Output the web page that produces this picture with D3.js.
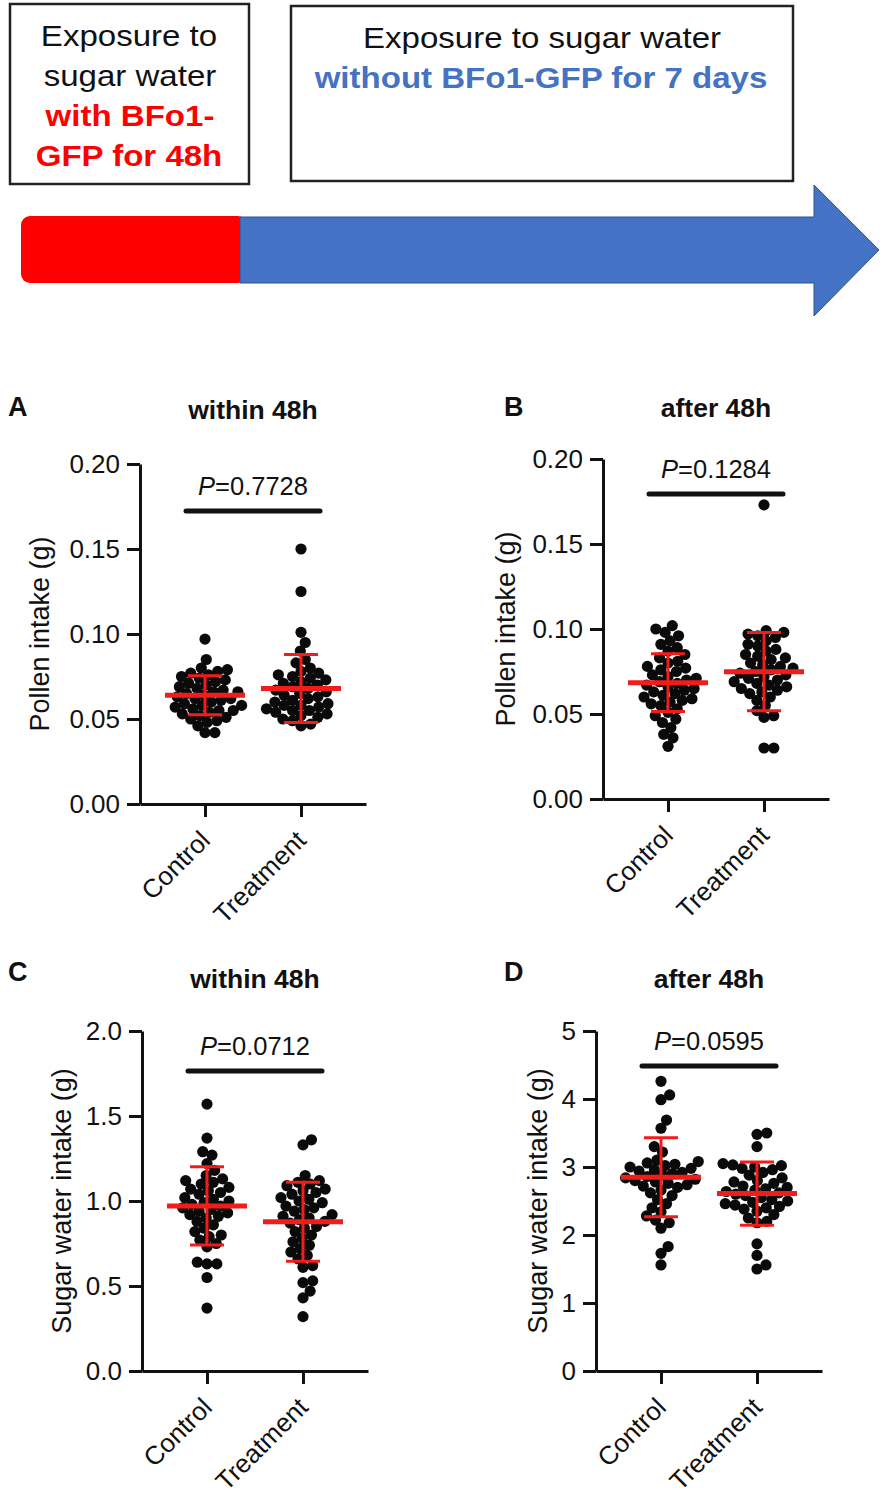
<!DOCTYPE html>
<html>
<head>
  <meta charset="utf-8">
  <script src="https://d3js.org/d3.v7.min.js"></script>
  <style>
    body { margin: 0; background: #fff; }
    text { font-family: "Liberation Sans", Arial, sans-serif; fill: #111; }
    .axis path, .axis line { stroke: #111; stroke-width: 3px; }
    .axis text { font-size: 26px; fill: #111; }
  </style>
</head>
<body>
<div id="fig"></div>
<script>
// ---- data ----
var groups = ["Control", "Treatment"];

var aControl = [0.097, 0.085, 0.080, 0.079, 0.078, 0.077, 0.076, 0.075, 0.074, 0.073, 0.072, 0.071, 0.070, 0.069,
  0.068, 0.067, 0.066, 0.066, 0.065, 0.064, 0.063, 0.062, 0.062, 0.061, 0.060, 0.059, 0.058, 0.058, 0.057, 0.056,
  0.055, 0.055, 0.054, 0.053, 0.052, 0.051, 0.050, 0.049, 0.048, 0.046, 0.042, 0.042];
var aTreatment = [0.150, 0.125, 0.101, 0.095, 0.090, 0.085, 0.083, 0.080, 0.078, 0.077, 0.076, 0.075, 0.074, 0.073,
  0.072, 0.071, 0.070, 0.069, 0.068, 0.067, 0.066, 0.065, 0.064, 0.063, 0.062, 0.061, 0.060, 0.059, 0.058, 0.058,
  0.057, 0.056, 0.055, 0.055, 0.054, 0.053, 0.052, 0.051, 0.050, 0.049, 0.047, 0.046];

var bControl = [0.102, 0.100, 0.098, 0.096, 0.093, 0.091, 0.089, 0.087, 0.085, 0.083, 0.081, 0.080, 0.078, 0.077,
  0.076, 0.075, 0.073, 0.072, 0.071, 0.070, 0.069, 0.068, 0.067, 0.066, 0.065, 0.064, 0.063, 0.062, 0.061, 0.060,
  0.059, 0.058, 0.057, 0.056, 0.055, 0.053, 0.051, 0.049, 0.047, 0.045, 0.042, 0.038, 0.036, 0.031];
var bTreatment = [0.173, 0.099, 0.098, 0.097, 0.096, 0.095, 0.093, 0.091, 0.090, 0.088, 0.087, 0.085, 0.084, 0.083,
  0.082, 0.080, 0.079, 0.078, 0.077, 0.076, 0.075, 0.074, 0.073, 0.072, 0.071, 0.070, 0.069, 0.068, 0.067, 0.066,
  0.065, 0.064, 0.063, 0.062, 0.060, 0.058, 0.055, 0.052, 0.049, 0.048, 0.030, 0.030];

var cControl = [1.57, 1.37, 1.29, 1.27, 1.22, 1.18, 1.15, 1.13, 1.12, 1.11, 1.10, 1.08, 1.07, 1.06, 1.05, 1.04,
  1.02, 1.01, 1.00, 0.99, 0.98, 0.97, 0.96, 0.95, 0.94, 0.93, 0.92, 0.91, 0.90, 0.88, 0.86, 0.84, 0.82, 0.80,
  0.79, 0.77, 0.75, 0.73, 0.64, 0.63, 0.63, 0.55, 0.37];
var cTreatment = [1.36, 1.33, 1.15, 1.12, 1.11, 1.10, 1.09, 1.07, 1.06, 1.05, 1.04, 1.02, 1.01, 1.00, 0.99, 0.97,
  0.96, 0.95, 0.94, 0.92, 0.91, 0.90, 0.89, 0.88, 0.87, 0.85, 0.84, 0.82, 0.80, 0.78, 0.76, 0.74, 0.72, 0.70,
  0.68, 0.66, 0.62, 0.61, 0.53, 0.52, 0.47, 0.43, 0.32];

var dControl = [4.26, 4.06, 3.99, 3.69, 3.57, 3.30, 3.22, 3.10, 3.08, 3.06, 3.04, 3.02, 3.00, 2.98, 2.96, 2.94,
  2.92, 2.90, 2.88, 2.86, 2.84, 2.82, 2.80, 2.78, 2.76, 2.74, 2.72, 2.70, 2.66, 2.62, 2.58, 2.52, 2.46, 2.40,
  2.34, 2.28, 2.22, 2.18, 2.10, 1.83, 1.73, 1.56];
var dTreatment = [3.50, 3.48, 3.30, 3.05, 3.03, 3.02, 3.00, 2.98, 2.96, 2.92, 2.88, 2.84, 2.80, 2.78, 2.76, 2.72,
  2.70, 2.68, 2.66, 2.64, 2.62, 2.60, 2.58, 2.55, 2.52, 2.50, 2.48, 2.46, 2.44, 2.42, 2.40, 2.38, 2.35, 2.30,
  2.25, 2.20, 2.18, 1.87, 1.70, 1.56, 1.50];

// mean and SD bars as drawn
var means = [[0.064, 0.068], [0.0684, 0.0749], [0.971, 0.878], [2.85, 2.61]];
var sds = [[0.0115, 0.020], [0.017, 0.023], [0.23, 0.233], [0.58, 0.465]];

var panelLetters = ["A", "B", "C", "D"];
var titles = ["within 48h", "after 48h", "within 48h", "after 48h"];
var yLabels = ["Pollen intake (g)", "Pollen intake (g)", "Sugar water intake (g)", "Sugar water intake (g)"];
var yMax = [0.20, 0.20, 2.0, 5];
var yTicks = [[0, 0.05, 0.10, 0.15, 0.20], [0, 0.05, 0.10, 0.15, 0.20], [0, 0.5, 1.0, 1.5, 2.0], [0, 1, 2, 3, 4, 5]];
var tickFormats = [".2f", ".2f", ".1f", "d"];
var pValues = ["0.7728", "0.1284", "0.0712", "0.0595"];
var pBarLevel = [0.1724, 0.1794, 1.765, 4.485];

var panelData = [[aControl, aTreatment], [bControl, bTreatment], [cControl, cTreatment], [dControl, dTreatment]];

// ---- layout ----
var width = 886, height = 1496;
var layout = [
  {x0: 140, yBase: 804, letterX: 8, letterY: 416, titleY: 419, labelX: 40},
  {x0: 603, yBase: 799, letterX: 504, letterY: 416, titleY: 417, labelX: 506},
  {x0: 142, yBase: 1371, letterX: 8, letterY: 981, titleY: 988, labelX: 62},
  {x0: 596, yBase: 1371, letterX: 504, letterY: 981, titleY: 988, labelX: 538}
];
var axisW = 226, axisH = 340, dotR = 5.6;

var svg = d3.select("#fig").append("svg")
  .attr("width", width)
  .attr("height", height);

svg.append("rect").attr("width", width).attr("height", height).attr("fill", "#fff");

// ---- timeline banner ----
var banner = svg.append("g");

banner.append("rect")
  .attr("x", 10).attr("y", 4).attr("width", 239).attr("height", 180)
  .attr("fill", "#fff").attr("stroke", "#222").attr("stroke-width", 2.5);
banner.append("rect")
  .attr("x", 291).attr("y", 6).attr("width", 502).attr("height", 175)
  .attr("fill", "#fff").attr("stroke", "#222").attr("stroke-width", 2.5);

banner.append("rect")
  .attr("x", 21).attr("y", 216).attr("width", 226).attr("height", 67).attr("rx", 9)
  .attr("fill", "#ff0000");
banner.append("path")
  .attr("d", "M240,217 L814,217 L814,185 L879,250 L814,316 L814,283 L240,283 Z")
  .attr("fill", "#4472c4").attr("stroke", "#2f528f").attr("stroke-width", 1);

// banner text is a bit wider than plain Arial
function bannerLine(x, y, str, color, bold) {
  banner.append("text")
    .attr("transform", "translate(" + x + "," + y + ") scale(1.12,1)")
    .attr("text-anchor", "middle")
    .style("font-size", "29.5px")
    .style("font-weight", bold ? "bold" : "normal")
    .style("fill", color)
    .text(str);
}
bannerLine(129, 46, "Exposure to", "#111", false);
bannerLine(130, 86, "sugar water", "#111", false);
bannerLine(130, 126, "with BFo1-", "#ff0000", true);
bannerLine(129, 166, "GFP for 48h", "#ff0000", true);
bannerLine(542, 48, "Exposure to sugar water", "#111", false);
bannerLine(541, 88, "without BFo1-GFP for 7 days", "#4472c4", true);

// ---- simple beeswarm ----
function swarm(vals, y, cx) {
  var d = 2 * dotR * 0.88;
  var pts = vals.map(function(v) { return {v: v, y: y(v)}; })
    .sort(function(a, b) { return b.y - a.y; });
  var done = [];
  pts.forEach(function(p) {
    var cands = [0];
    done.forEach(function(q) {
      var dy = p.y - q.y;
      if (Math.abs(dy) < d) {
        var dx = Math.sqrt(d * d - dy * dy);
        cands.push(q.dx + dx, q.dx - dx);
      }
    });
    cands.sort(function(a, b) { return Math.abs(a) - Math.abs(b); });
    for (var i = 0; i < cands.length; i++) {
      var c = cands[i];
      var ok = done.every(function(q) {
        return (q.dx - c) * (q.dx - c) + (q.y - p.y) * (q.y - p.y) >= d * d - 0.01;
      });
      if (ok) { p.dx = c; break; }
    }
    done.push(p);
  });
  return done.map(function(p) { return {x: cx + p.dx, y: p.y}; });
}

// ---- panels ----
layout.forEach(function(L, i) {
  var g = svg.append("g");

  var x = d3.scalePoint()
    .domain(groups)
    .range([L.x0, L.x0 + axisW])
    .padding(0.677);

  var y = d3.scaleLinear()
    .domain([0, yMax[i]])
    .range([L.yBase, L.yBase - axisH]);

  var midX = (x(groups[0]) + x(groups[1])) / 2;

  // panel letter + title
  g.append("text")
    .attr("x", L.letterX).attr("y", L.letterY)
    .style("font-size", "27px").style("font-weight", "bold")
    .text(panelLetters[i]);
  g.append("text")
    .attr("x", midX).attr("y", L.titleY)
    .attr("text-anchor", "middle")
    .style("font-size", "26.5px").style("font-weight", "bold")
    .text(titles[i]);

  // y axis
  g.append("g")
    .attr("class", "axis")
    .attr("transform", "translate(" + L.x0 + ",0)")
    .call(d3.axisLeft(y).tickValues(yTicks[i]).tickFormat(d3.format(tickFormats[i]))
      .tickSize(13).tickSizeOuter(0).tickPadding(7));

  // x axis
  var xa = g.append("g")
    .attr("class", "axis")
    .attr("transform", "translate(0," + L.yBase + ")")
    .call(d3.axisBottom(x).tickSize(13).tickSizeOuter(0));
  xa.selectAll(".tick text").remove();
  xa.selectAll(".tick").append("text")
    .attr("transform", "translate(6,38) rotate(-45)")
    .attr("text-anchor", "end")
    .style("font-size", "26px")
    .text(function(d) { return d; });

  // y label
  g.append("text")
    .attr("transform", "translate(" + L.labelX + "," + (L.yBase - axisH / 2) + ") rotate(-90)")
    .attr("text-anchor", "middle")
    .attr("dy", "0.35em")
    .style("font-size", "27px")
    .text(yLabels[i]);

  // significance bar
  var barY = y(pBarLevel[i]);
  g.append("line")
    .attr("x1", midX - 67).attr("x2", midX + 67)
    .attr("y1", barY).attr("y2", barY)
    .attr("stroke", "#111").attr("stroke-width", 5).attr("stroke-linecap", "round");
  var pt = g.append("text")
    .attr("x", midX).attr("y", barY - 16)
    .attr("text-anchor", "middle")
    .style("font-size", "25.5px");
  pt.append("tspan").style("font-style", "italic").text("P");
  pt.append("tspan").text("=" + pValues[i]);

  // dots
  groups.forEach(function(grp, j) {
    var pts = swarm(panelData[i][j], y, x(grp));
    g.selectAll(null)
      .data(pts)
      .enter().append("circle")
      .attr("cx", function(d) { return d.x; })
      .attr("cy", function(d) { return d.y; })
      .attr("r", dotR)
      .attr("fill", "#0a0a0a");
  });

  // mean +/- SD
  groups.forEach(function(grp, j) {
    var cx = x(grp), m = means[i][j], s = sds[i][j];
    var eb = g.append("g").attr("stroke", "#f21c1c");
    eb.append("line")
      .attr("x1", cx).attr("x2", cx)
      .attr("y1", y(m + s)).attr("y2", y(m - s))
      .attr("stroke-width", 3);
    [m + s, m - s].forEach(function(v) {
      eb.append("line")
        .attr("x1", cx - 17).attr("x2", cx + 17)
        .attr("y1", y(v)).attr("y2", y(v))
        .attr("stroke-width", 3);
    });
    eb.append("line")
      .attr("x1", cx - 40).attr("x2", cx + 40)
      .attr("y1", y(m)).attr("y2", y(m))
      .attr("stroke-width", 5);
  });
});
</script>
</body>
</html>
